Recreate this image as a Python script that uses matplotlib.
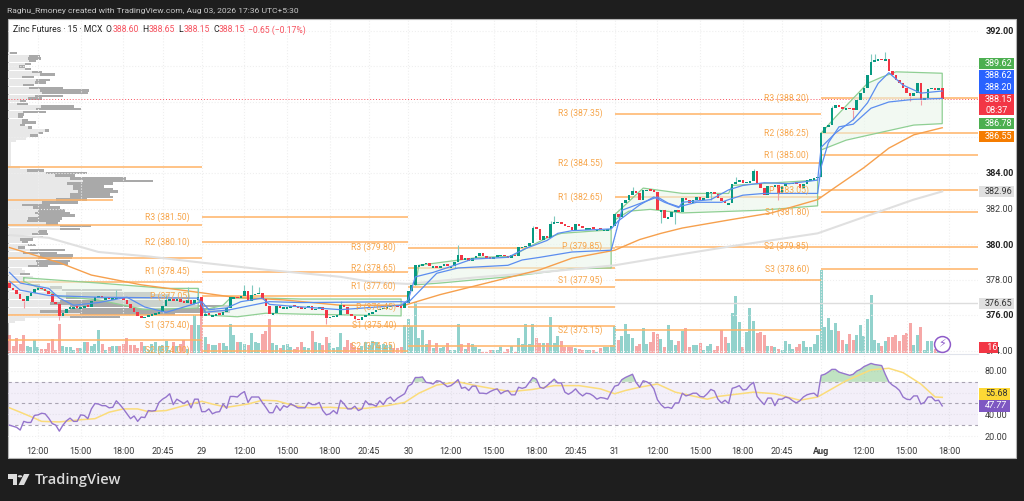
import numpy as np
import matplotlib
matplotlib.use("Agg")
import matplotlib.pyplot as plt
from matplotlib.patches import Rectangle, Polygon, Circle

W, H = 1024, 501

# closes per session, 15 min bars
closes_jul28 = [377.5,377.4,377.2,376.9,376.8,377.05,377.25,377.45,377.5,377.45,377.35,377.2,376.75,376.6,375.95,376.1,376.35,376.45,376.45,376.4,376.45,376.5,376.45,376.8,377.0,377.05,376.95,376.95,376.9,376.95,377.0,376.95,376.85,376.6,376.4,376.15,375.95,375.85,375.9,376.0,376.05,376.1,376.15,376.5,376.85,376.9,376.8,376.9,376.75,376.7,376.85,376.6,376.85,377.0]
closes_jul29 = [375.95,376.05,376.0,376.0,376.05,376.0,376.15,376.4,377.0,377.0,376.95,377.05,377.35,376.8,377.15,377.2,377.25,376.9,376.5,376.05,376.1,376.5,376.4,376.45,376.45,376.5,376.45,376.4,376.35,376.4,376.5,376.3,376.35,376.45,376.3,375.85,375.9,375.95,376.0,376.55,376.45,376.05,375.95,375.8,375.7,375.9,376.0,376.1,376.15,376.3,376.35,376.4,376.45,376.55,376.5,376.45,376.4,376.7]
closes_jul30 = [377.35,377.7,378.8,378.8,378.85,378.95,378.75,378.75,378.65,378.75,378.85,378.75,378.75,379.0,379.4,379.1,379.2,379.05,379.2,379.3,379.5,379.3,379.2,379.15,379.25,379.4,379.4,379.3,379.2,379.4,379.3,379.85,379.85,379.9,380.05,380.9,380.85,380.25,380.45,380.35,381.15,381.25,381.25,381.15,381.0,380.95,380.8,381.15,381.0,380.9,380.9,380.9,380.85,380.85,380.8,380.8,380.85,381.0]
closes_jul31 = [381.7,381.5,382.3,382.5,382.75,383.0,382.85,382.5,383.05,383.05,383.0,382.95,381.9,381.9,381.45,381.5,381.8,381.9,381.8,382.6,382.5,382.3,382.5,382.65,382.5,382.6,382.95,382.95,382.8,382.6,382.4,382.3,382.3,383.4,383.5,383.6,383.45,383.5,383.55,384.1,383.45,383.15,382.75,383.25,383.2,383.3,382.85,383.25,383.4,383.45,383.45,383.4,383.15,383.4,383.6,383.65,383.7,383.8]
closes_aug03 = [386.25,386.6,386.7,387.65,387.85,387.7,387.6,387.65,387.6,387.55,388.1,388.5,388.8,389.5,390.25,390.35,390.4,390.35,390.4,389.75,389.5,389.25,389.05,388.8,388.5,388.35,388.5,389.05,388.1,388.2,388.75,388.8,388.65,388.8,388.15]
first_open = 377.8

wick_high = {30: 377.4, 44: 377.1, 50: 377.55, 53: 377.5, 66: 377.7, 68: 377.7, 70: 377.55, 93: 376.8, 126: 379.95, 147: 381.0,
             152: 381.3, 153: 381.6, 175: 383.2, 204: 383.8, 209: 384.25, 231: 387.8, 242: 390.7, 243: 390.7, 246: 390.8}
wick_low = {4: 376.4, 14: 375.7, 89: 375.5, 97: 375.7, 113: 377.4, 125: 378.65, 183: 381.2, 187: 381.15, 197: 382.5, 216: 382.5, 237: 387.0, 253: 388.05, 256: 387.85}

volume = [18,7,15,9,18,7,6,13,6,4,4,10,14,3,29,7,6,6,3,5,5,11,11,7,9,23,9,3,6,7,7,7,9,15,8,8,5,11,7,3,9,11,7,8,12,3,11,7,9,13,4,28,38,28,
          38,16,9,8,8,10,10,7,29,18,11,11,9,8,20,11,10,19,22,34,10,8,5,8,9,6,4,6,11,6,5,22,11,10,8,16,10,5,6,20,6,13,10,6,5,7,11,8,12,11,8,9,8,8,5,5,6,28,
          34,27,51,15,23,9,13,5,10,5,6,10,3,3,29,9,4,10,9,6,4,1,1,3,3,3,6,1,4,7,1,15,9,29,9,29,15,10,10,10,36,10,17,12,6,6,6,5,4,3,3,3,3,1,5,6,6,8,
          27,13,17,29,19,15,7,9,25,9,11,21,19,14,6,28,13,8,12,22,25,6,8,8,10,3,7,9,3,7,23,16,10,40,57,31,6,21,45,32,20,21,18,7,7,6,4,3,12,9,4,6,9,12,6,6,9,18,
          83,26,35,23,30,22,13,9,19,13,18,28,17,34,58,13,10,7,12,16,16,18,12,18,20,30,8,18,26,3,12,12,4,2,2]

rsi = [30,29,28,25.5,33.5,32.5,32.5,39,39.5,41,40.5,36.5,31.5,30,24.5,30,34,36.5,33.5,33.5,39.5,39,36,45,50,49.5,48,48,46,46.5,52.5,49,45,40.5,36,38.5,33.5,37.5,37,43.5,43,43.5,51,54,56,59,49,54,52,50,52.5,46,54,54,
       42.5,42.5,45,40.5,42,42.5,49.5,45.5,56.5,56.5,56,59,61,51,56,56,56,51,46.5,41.5,41.5,48,43.5,48,46.5,49.5,48,46,46,46,51,49,49,51,43.5,39.5,40.5,43.5,40.5,53,49.5,45,45,47.5,43.5,45,52.5,49,49,47.5,52.5,49,54,56,52,55,57,59,
       66,68,74,74,74.5,69.5,69,68,71,70.5,68,65.5,66.5,69,72,64,65,62,66,66,59.5,59.5,59,61,62.5,63.5,59,61,62,58,58,65,64,65,69.5,74,72.5,65,64,66.5,69.5,72.5,69,69,60.5,58.5,60.5,63.5,59.5,57,59.5,59,57,54,55.5,55,54,60.5,
       66,67,72,74,75.5,77,69.5,65,71,70,68,63.5,53.5,49,46,46.5,45.5,50.5,50.5,59.5,57,58,59.5,59.5,56.5,56,59,63,61.5,54,50.5,53,50,64,65,66.5,62.5,63,67,69.5,56.5,52.5,49,55,55,48,54,54,56,55,52.5,50.5,52.5,56,58,59,59.5,56.5,
       76,77,79,81.5,81.5,79,78,77,76,77,80,81.5,84,85.5,87,86,85.5,85,77,70,67,65,62,56,54,53.5,57,57,49.5,51,56,56,52.5,53,47.77]

rsi_ma_x = [0,3,7,9,14,20,24,28,32,36,39,44,49,54,57,61,67,71,75,80,84,90,95,100,106,111,115,120,126,131,136,141,147,153,160,166,170,173,177,182,187,196,199,209,215,222,227,235,242,247,251,256,260,262]
rsi_ma = [46,42,36.5,33.5,33,35,36,42,45,45,42.5,43.5,48,52,49.5,46.5,49.5,53,52.5,48,46,46.5,45.5,45.5,48,51,59.5,67,70,66.5,63.5,61,63,66.5,66.5,63.5,59,62,65,68,60.5,54,56.5,60.5,59,53,56,71,81,82.5,78.5,68,56,55.68]

ema_grey_x = [0,11,25,39,54,72,93,102,112,130,149,170,188,202,227,244,254,262]
ema_grey = [380.5,380.35,379.55,379.3,378.95,378.55,378.15,377.85,377.75,378.1,378.4,378.8,379.4,379.85,380.6,381.8,382.5,382.96]
ema_orange_x = [0,14,23,37,54,63,77,93,111,121,140,149,158,170,177,183,189,202,214,227,232,240,247,254,262]
ema_orange = [379.8,378.95,378.25,377.7,377.25,377.0,376.85,376.55,376.55,377.15,378.1,378.55,379.2,379.65,380.25,380.6,380.9,381.35,381.75,382.5,383.2,384.3,385.4,386.15,386.55]
blue_fast_x = [0,3,11,14,18,25,33,38,44,54,56,61,65,71,73,79,93,110,112,114,119,125,130,140,145,151,154,158,169,171,174,177,181,184,188,189,197,202,206,212,219,227,228,232,237,241,244,247,251,256,262]
blue_fast = [378.4,377.8,377.5,376.95,376.55,376.7,377.0,376.45,376.15,376.75,376.3,376.4,376.75,376.95,376.6,376.5,376.3,376.55,376.85,378.15,378.4,378.8,379.15,379.25,379.75,380.2,380.6,380.75,380.85,381.3,381.75,382.2,382.65,382.35,382.05,382.35,382.5,383.05,383.3,383.45,383.4,383.6,385.45,386.25,387.0,387.95,389.05,389.65,388.95,388.5,388.62]
blue_vwap_x = [0,3,11,25,53,55,62,73,82,110,112,120,126,140,144,149,158,169,172,178,182,185,188,193,200,202,206,212,227,228,230,233,237,242,247,254,262]
blue_vwap = [377.9,377.4,377.1,377.0,376.95,376.15,376.3,376.75,376.7,376.75,376.7,378.35,378.65,378.8,379.1,379.25,379.55,379.65,381.9,382.35,382.65,382.3,382.1,382.35,382.35,382.5,382.75,382.85,382.85,384.35,385.7,386.6,386.75,387.65,388.0,388.15,388.2]

# vwap bands, one (x, upper, x, lower) per session
band_x_up = [[4,25,44,53],[55,60,62,72,82,110],[114,115,132,141,146,151,155,169],[170,178,189,202,203,227],[228,232,241,245,249,262]]
band_up = [[378.1,377.8,377.5,377.5],[376.3,376.55,376.95,376.95,376.9,376.9],[377.7,378.8,379.25,379.3,379.85,380.35,380.6,380.8],[381.65,383.15,382.85,382.85,383.3,383.6],[386.25,387.15,389.05,389.4,389.7,389.62]]
band_x_low = [[4,14,25,38,53],[55,64,72,82,110],[114,121,140,158,169],[170,174,180,189,211,227],[228,235,245,254,262]]
band_low = [[377.9,377.05,376.85,376.3,376.4],[376.0,375.9,376.1,376.05,375.95],[377.7,377.8,378.15,378.6,378.65],[381.35,381.85,381.95,381.75,381.9,382.15],[385.3,385.85,386.3,386.7,386.78]]

# pivots, session start/end in bars
pivot_sessions = [
    (54, 112, ["R3 (381.50)", "R2 (380.10)", "R1 (378.45)", "P (377.05)", "S1 (375.40)", "S2 (374.00)"], [381.5, 380.1, 378.45, 377.05, 375.4, 374.0]),
    (112, 170, ["R3 (379.80)", "R2 (378.65)", "R1 (377.60)", "P (376.45)", "S1 (375.40)", "S2 (374.25)"], [379.8, 378.65, 377.6, 376.45, 375.4, 374.25]),
    (170, 228, ["R3 (387.35)", "R2 (384.55)", "R1 (382.65)", "P (379.85)", "S1 (377.95)", "S2 (375.15)"], [387.35, 384.55, 382.65, 379.85, 377.95, 375.15]),
    (228, 272, ["R3 (388.20)", "R2 (386.25)", "R1 (385.00)", "P (383.05)", "S1 (381.80)", "S2 (379.85)", "S3 (378.60)"], [388.2, 386.25, 385.0, 383.05, 381.8, 379.85, 378.6]),
]
pivot_first = [384.35, 381.07, 379.21, 377.86, 376.0, 374.6]
pivot_first_short = 382.48

# volume profile rows, from 390.75 down in 0.15 steps (up part end, total end)
profile_up = [10,29,28,29,25,19,25,32,40,22,36,35,23,29,40,42,35,28,20,17,41,36,23,18,18,22,22,20,28,45,38,30,26,16,11,11,11,11,11,11,11,11,11,20,
              27,46,55,70,83,67,73,73,78,70,70,56,42,22,33,38,35,38,28,27,46,60,60,38,32,32,20,22,28,18,30,23,40,38,36,37,28,22,25,20,33,25,30,33,50,
              62,66,66,66,60,50,70,70,40,80,70,25,15]
profile_all = [17,40,41,36,31,25,31,42,55,34,50,46,34,63,89,88,63,42,26,28,74,81,46,24,23,28,36,25,32,49,43,38,26,16,11,11,11,11,11,11,11,11,11,20,
               44,87,75,126,153,113,104,113,118,110,113,87,78,50,60,65,70,75,62,60,58,91,80,47,48,43,33,28,36,25,65,57,73,72,70,68,48,22,25,30,33,25,40,40,62,
               122,152,170,190,190,195,230,215,230,175,120,25,15]

tick_pos = [8,20,32,43,54,66,78,90,101,112,124,136,148,159,170,182,194,206,217,228,240,252,264]
tick_lab = ["12:00","15:00","18:00","20:45","29","12:00","15:00","18:00","20:45","30","12:00","15:00","18:00","20:45","31","12:00","15:00","18:00","20:45","Aug","12:00","15:00","18:00"]
price_ticks = [392,390,388,386,384,382,380,378,376,374]
price_hidden = [390,388,386]
price_bold = [392,384,380,376]
rsi_ticks = [80,60,40,20]

plt.rcParams["font.family"] = ["Roboto", "DejaVu Sans"]

UP = "#089981"
DOWN = "#f23645"
ORANGE = "#ffb366"
ORANGE_TXT = "#f7a64c"
GREEN = "#8fcf93"
BLUE = "#5b8def"
GRID = "#efefef"
MIN_BODY = 0.09


def box(l, t, r, b):
    return [l / W, 1 - b / H, (r - l) / W, (b - t) / H]


def tag(t, b, color, text, tc="white", l=979, r=1014, fs=6.5, style="normal", y=None):
    fig.add_artist(Rectangle((l / W, 1 - b / H), (r - l) / W, (b - t) / H, color=color, lw=0, zorder=10))
    y = (t + b) / 2 if y is None else y
    fig.text((l + 6) / W, 1 - y / H, text, color=tc, fontsize=fs, va="center", ha="left", zorder=11, style=style)


fig = plt.figure(figsize=(W / 100, H / 100), dpi=100, facecolor="#1e1e1e")
fig.add_artist(Rectangle((7.5 / W, 1 - 458 / H), 1008.5 / W, 439 / H, facecolor="white", edgecolor="#b5b5b5", lw=0.8, zorder=-1))

closes = np.array(closes_jul28 + closes_jul29 + closes_jul30 + closes_jul31 + closes_aug03)
assert len(closes) == 263 and len(volume) == 263 and len(rsi) == 263
opens = np.concatenate(([first_open], closes[:-1]))
idx = np.arange(len(closes))
up = closes >= opens

x_left = (8 - 9.5) / 3.56
x_right = (978 - 9.5) / 3.56
y_top = 392 + 12 / 17.75
y_bot = 392 - 323 / 17.75

# volume profile behind everything
ax_p = fig.add_axes(box(8, 19, 978, 354), zorder=1)
ax_p.axis("off")
ax_p.set_xlim(8, 978)
ax_p.set_ylim(y_bot, y_top)
rows = 390.75 - 0.15 * np.arange(len(profile_up))
ax_p.barh(rows, np.array(profile_up) - 8, left=8, height=0.14, color="#e8e8e8", lw=0)
ax_p.barh(rows, np.array(profile_all) - np.array(profile_up), left=profile_up, height=0.14, color="#a9a9a9", lw=0)

ax_v = fig.add_axes(box(8, 19, 978, 354), zorder=1.2)
ax_v.axis("off")
ax_v.set_xlim(x_left, x_right)
ax_v.set_ylim(-1, 334)
ax_v.bar(idx[up], np.array(volume)[up], width=0.84, color="#26a69a", alpha=0.5, lw=0)
ax_v.bar(idx[~up], np.array(volume)[~up], width=0.84, color="#ef5350", alpha=0.5, lw=0)

ax = fig.add_axes(box(8, 19, 978, 354), zorder=2)
ax.patch.set_visible(False)
ax.set_xlim(x_left, x_right)
ax.set_ylim(y_bot, y_top)
for s in ["top", "left", "right"]:
    ax.spines[s].set_visible(False)
ax.spines["bottom"].set_color("#e0e3eb")
ax.spines["bottom"].set_linewidth(0.8)
ax.set_axisbelow(True)
ax.set_xticks(tick_pos)
ax.set_yticks(price_ticks)
ax.set_yticklabels(["" if p in price_hidden else "%.2f" % p for p in price_ticks])
ax.yaxis.tick_right()
ax.tick_params(axis="y", length=0, pad=5.7, labelsize=6.5, labelcolor="#3a3a3a")
ax.tick_params(axis="x", length=0, labelbottom=False)
for lab, p in zip(ax.get_yticklabels(), price_ticks):
    if p in price_bold:
        lab.set_fontweight("bold")
        lab.set_color("#222222")
ax.grid(True, color=GRID, ls=":", lw=0.8)

# pivots
ax.hlines(pivot_first, x_left, 54, color=ORANGE, lw=1.1, zorder=2)
ax.hlines(pivot_first_short, x_left, 29, color=ORANGE, lw=1.1, zorder=2)
for start, end, names, levels in pivot_sessions:
    ax.hlines(levels, start, end, color=ORANGE, lw=1.1, zorder=2)
    for name, lev in zip(names, levels):
        ax.text(start - 3.4, lev, name, color=ORANGE_TXT, fontsize=6.2, ha="right", va="center", zorder=7)

# bands
for xu, yu, xl, yl in zip(band_x_up, band_up, band_x_low, band_low):
    px = xu + xl[::-1]
    py = yu + yl[::-1]
    ax.fill(px, py, color="#e8f5e9", alpha=0.55, lw=0, zorder=2.2)
    ax.plot(px + px[:1], py + py[:1], color=GREEN, lw=0.9, zorder=3)

ax.axhline(376.65, xmin=(114 - x_left) / (x_right - x_left), color="#dddddd", lw=1.0, zorder=2.5)
ax.plot(ema_grey_x, ema_grey, color="#e0e0e0", lw=1.5, zorder=3)
ax.plot(ema_orange_x, ema_orange, color="#f6a04d", lw=1.0, zorder=3.2)

# candles
body_up = np.maximum((closes - opens)[up], MIN_BODY)
body_dn = np.maximum((opens - closes)[~up], MIN_BODY)
ax.bar(idx[up], body_up, bottom=closes[up] - body_up, width=0.72, color=UP, lw=0, zorder=4)
ax.bar(idx[~up], body_dn, bottom=closes[~up], width=0.72, color=DOWN, lw=0, zorder=4)
for i, hi in wick_high.items():
    ax.vlines(i, max(opens[i], closes[i]), hi, color="#7fc8bd" if up[i] else "#f29aa2", lw=0.8, zorder=3.8)
for i, lo in wick_low.items():
    ax.vlines(i, lo, min(opens[i], closes[i]), color="#7fc8bd" if up[i] else "#f29aa2", lw=0.8, zorder=3.8)

ax.plot(blue_vwap_x, blue_vwap, color=BLUE, lw=0.9, zorder=5)
ax.plot(blue_fast_x, blue_fast, color=BLUE, lw=0.9, zorder=5)
ax.axhline(closes[-1], color="#f7525f", lw=0.7, ls=(0, (1, 2)), zorder=1.5)

# lightning badge
badge_y = 392 - (344 - 31) / 17.75
ax.scatter([262], [badge_y], s=130, facecolor="white", edgecolor="#8e5bc9", lw=1.1, zorder=8, clip_on=False)
ax.text(262, badge_y, "\u26a1", color="#8e5bc9", fontsize=8, ha="center", va="center", zorder=9, family="DejaVu Sans")

# rsi pane
ax_r = fig.add_axes(box(8, 355, 978, 439), zorder=2)
ax_r.patch.set_visible(False)
ax_r.set_xlim(x_left, x_right)
ax_r.set_ylim(20 - 3 * 60 / 65, 80 + 16 * 60 / 65)
for s in ax_r.spines.values():
    s.set_visible(False)
ax_r.set_axisbelow(True)
ax_r.set_xticks(tick_pos)
ax_r.set_xticklabels(tick_lab)
ax_r.tick_params(axis="x", length=0, pad=5.5, labelsize=6.5, labelcolor="#3a3a3a")
ax_r.get_xticklabels()[tick_lab.index("Aug")].set_fontweight("bold")
ax_r.set_yticks(rsi_ticks)
ax_r.set_yticklabels(["" if v == 60 else "%.2f" % v for v in rsi_ticks])
ax_r.yaxis.tick_right()
ax_r.tick_params(axis="y", length=0, pad=5.0, labelsize=6.5, labelcolor="#3a3a3a")
ax_r.grid(True, color=GRID, ls=":", lw=0.8)
ax_r.axhspan(30, 70, color="#7e57c2", alpha=0.09, lw=0)
for lev in [70, 50, 30]:
    ax_r.axhline(lev, color="#a9a4b2", lw=0.8, ls=(0, (3, 3)))
rsi_arr = np.array(rsi)
ax_r.fill_between(idx, 70, rsi_arr, where=rsi_arr >= 70, color="#4caf50", alpha=0.35, lw=0, interpolate=True)
ax_r.plot(rsi_ma_x, rsi_ma, color="#fbdc7a", lw=1.1, zorder=3)
ax_r.plot(idx, rsi_arr, color="#9575cd", lw=1.0, zorder=4)

# price tags
tag(58, 69, "#4caf50", "389.62")
tag(70, 82, "#2962ff", "388.62")
tag(82, 94, "#2962ff", "388.20")
tag(94, 115, "#f23645", "388.15", y=99)
fig.text(985 / W, 1 - 110.5 / H, "08:37", color="white", fontsize=6.5, va="center", zorder=11)
tag(118, 129, "#4caf50", "386.78")
tag(131, 142, "#f57c00", "386.55")
tag(186, 197, "#e0e0e0", "382.96", tc="#333333")
tag(298, 309, "#e0e0e0", "376.65", tc="#333333")
tag(342, 353, "#f23645", " 16", r=998)
tag(388, 399.5, "#fdd835", "55.68", tc="#333333", r=1010)
tag(400, 412, "#7e57c2", "47.77", style="italic", r=1010)

# header
fig.text(7 / W, 1 - 11 / H, "Raghu_Rmoney created with TradingView.com, Aug 03, 2026 17:36 UTC+5:30", color="#c8c8c8", fontsize=6.1, va="center")
fig.text(13 / W, 1 - 30 / H, "Zinc Futures \u00b7 15 \u00b7 MCX", color="#222222", fontsize=6.2, va="center", zorder=12)
for px_x, txt, col in [(106, "O", "#222222"), (112.5, "388.60", "#f7525f"), (142, "H", "#222222"), (148.5, "388.65", "#f7525f"),
                       (178, "L", "#222222"), (183.5, "388.15", "#f7525f"), (213, "C", "#222222"), (219, "388.15", "#f7525f"),
                       (248, "\u22120.65 (\u22120.17%)", "#f7525f")]:
    fig.text(px_x / W, 1 - 30 / H, txt, color=col, fontsize=6.2, va="center", zorder=12)

# logo
logo = "#dcdcdc"
fig.add_artist(Polygon([(8 / W, 1 - 474 / H), (17 / W, 1 - 474 / H), (17 / W, 1 - 485 / H), (13 / W, 1 - 485 / H), (13 / W, 1 - 478.5 / H), (8 / W, 1 - 478.5 / H)], color=logo, lw=0))
fig.add_artist(Circle((20 / W, 1 - 476.3 / H), 0.0022, color=logo, lw=0, transform=fig.transFigure))
fig.add_artist(Polygon([(24 / W, 1 - 474 / H), (29.5 / W, 1 - 474 / H), (24 / W, 1 - 485 / H), (18.5 / W, 1 - 485 / H)], color=logo, lw=0))
fig.text(35 / W, 1 - 480 / H, "TradingView", color=logo, fontsize=10.5, va="center", family="Open Sans", weight="semibold")

fig.savefig("out.png", dpi=100, facecolor=fig.get_facecolor())
